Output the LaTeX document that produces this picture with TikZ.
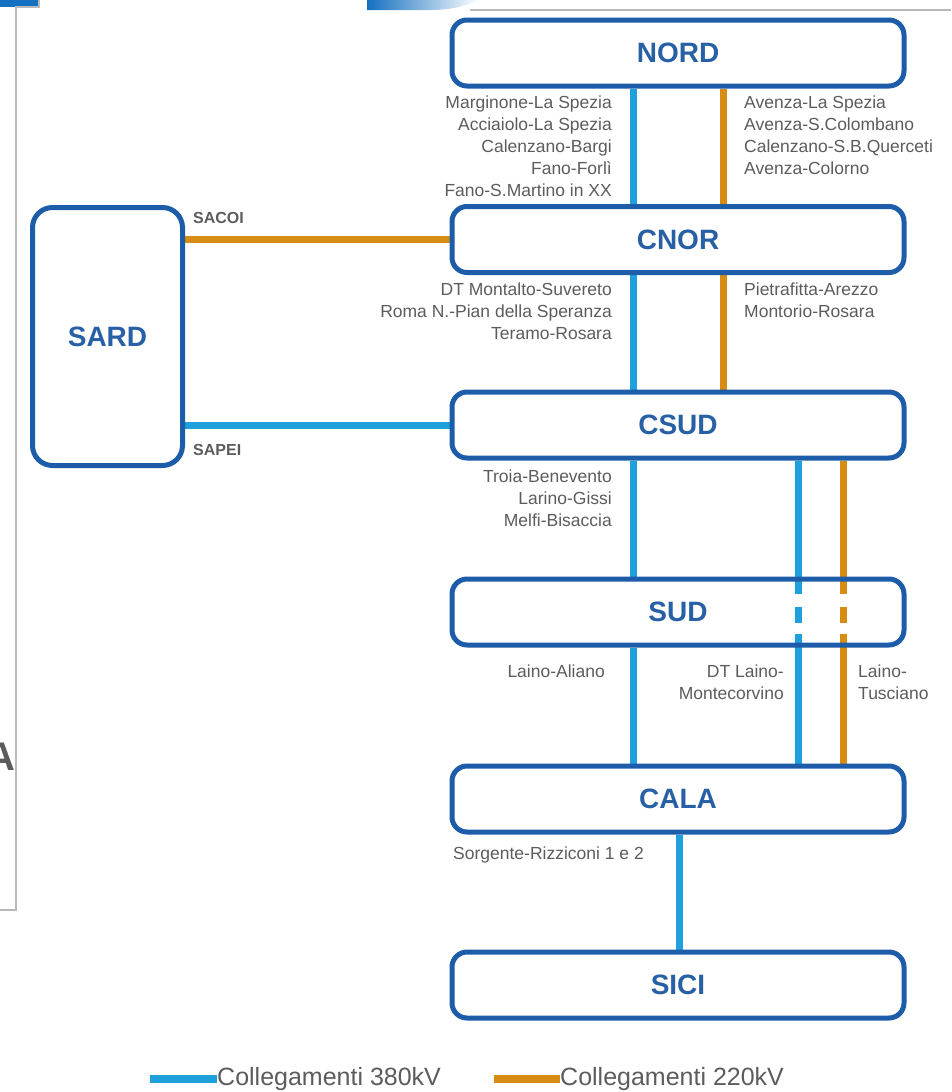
\documentclass[tikz,border=0pt]{standalone}
\usepackage{fontspec}
\setmainfont{Liberation Sans}
\usetikzlibrary{backgrounds}
\definecolor{zoneblue}{RGB}{28,92,168}
\definecolor{titleblue}{RGB}{40,96,166}
\definecolor{kvblue}{RGB}{30,160,220}
\definecolor{kvorange}{RGB}{215,140,20}
\definecolor{lblgray}{RGB}{92,92,92}
\definecolor{framegray}{RGB}{185,185,185}
\definecolor{barblue}{RGB}{20,112,192}
\begin{document}
\begin{tikzpicture}[x=1pt,y=-1pt]
		\tikzset{zone/.style = {draw=zoneblue, line width=5pt, rounded corners=15pt, minimum width=452pt, minimum height=66pt, inner sep=0pt, text=titleblue, font=\fontsize{28}{30}\selectfont\bfseries}}
		\tikzset{kv380/.style = {draw=kvblue, line width=7pt}}
		\tikzset{kv220/.style = {draw=kvorange, line width=7pt}}
		\tikzset{lbl/.style = {inner sep=0pt, text=lblgray, font=\fontsize{17.5}{22}\selectfont}}
		\tikzset{cable/.style = {inner sep=0pt, text=lblgray, font=\fontsize{16}{18}\selectfont\bfseries}}

		\useasboundingbox (0,0) rectangle (951,1092);

		% frame of the screenshot
		\fill[barblue] (0,0) rectangle (39,7);
		\shade[left color=barblue, right color=white] (367,0) -- (367,10) -- (430,10) .. controls (455,10) and (466,5) .. (480,0) -- cycle;
		\draw[framegray, line width=1.2pt] (0,910) -- (16,910) -- (16,7) -- (39,7) -- (39,0);
		\draw[framegray, line width=1.2pt] (470,10) -- (951,10);
		\begin{scope}
			\clip (0,0) rectangle (16,1092);
			\node[text=lblgray, font=\fontsize{40}{40}\selectfont\bfseries] (A_cut) at (1,757) {A};
		\end{scope}

		\node[zone] (NORD) at (678,53) {NORD};
		\node[zone] (CNOR) at (678,239.5) {CNOR};
		\node[zone] (CSUD) at (678,425) {CSUD};
		\node[zone] (SUD) at (678,612) {SUD};
		\node[zone] (CALA) at (678,799) {CALA};
		\node[zone] (SICI) at (678,985) {SICI};
		\node[zone, minimum width=150pt, minimum height=258pt, rounded corners=20pt] (SARD) at (107.5,336.5) {SARD};

		\coordinate (x_1) at (633,0);
		\coordinate (x_2) at (723,0);
		\coordinate (x_3) at (798,0);
		\coordinate (x_4) at (843,0);
		\coordinate (x_5) at (679,0);

		\node[lbl, anchor=north east, align=right] (L_1) at (612,95.5) {Marginone-La Spezia\\Acciaiolo-La Spezia\\Calenzano-Bargi\\Fano-Forlì\\Fano-S.Martino in XX};
		\node[lbl, anchor=north west, align=left] (R_1) at (744,95.5) {Avenza-La Spezia\\Avenza-S.Colombano\\Calenzano-S.B.Querceti\\Avenza-Colorno};
		\node[lbl, anchor=north east, align=right] (L_2) at (612,282.5) {DT Montalto-Suvereto\\Roma N.-Pian della Speranza\\Teramo-Rosara};
		\node[lbl, anchor=north west, align=left] (R_2) at (744,282.5) {Pietrafitta-Arezzo\\Montorio-Rosara};
		\node[lbl, anchor=north east, align=right] (L_3) at (612,469.5) {Troia-Benevento\\Larino-Gissi\\Melfi-Bisaccia};
		\node[lbl, anchor=north east, align=right] (L_4) at (605,664.5) {Laino-Aliano};
		\node[lbl, anchor=north east, align=right] (M_4) at (784,664.5) {DT Laino-\\Montecorvino};
		\node[lbl, anchor=north west, align=left] (R_4) at (858,664.5) {Laino-\\Tusciano};
		\node[lbl, anchor=north west, align=left] (L_5) at (453,846.5) {Sorgente-Rizziconi 1 e 2};
		\node[cable, anchor=north west] (SACOI) at (193,212) {SACOI};
		\node[cable, anchor=north west] (SAPEI) at (193,444) {SAPEI};

		\node[lbl, anchor=west, font=\fontsize{25}{25}\selectfont] (leg380) at (217,1079) {Collegamenti 380kV};
		\node[lbl, anchor=west, font=\fontsize{25}{25}\selectfont] (leg220) at (560,1079) {Collegamenti 220kV};
		\coordinate (bar380) at (150,1079);
		\coordinate (bar220) at (494,1079);

		\begin{scope}[on background layer]
			\draw[kv380] (NORD.south -| x_1)--(CNOR.north -| x_1);
			\draw[kv220] (NORD.south -| x_2)--(CNOR.north -| x_2);
			\draw[kv380] (CNOR.south -| x_1)--(CSUD.north -| x_1);
			\draw[kv220] (CNOR.south -| x_2)--(CSUD.north -| x_2);
			\draw[kv380] (CSUD.south -| x_1)--(SUD.north -| x_1);
			\draw[kv380, dash pattern=on 133pt off 13pt on 16pt off 11pt on 200pt] (CSUD.south -| x_3)--(CALA.north -| x_3);
			\draw[kv220, dash pattern=on 133pt off 13pt on 16pt off 11pt on 200pt] (CSUD.south -| x_4)--(CALA.north -| x_4);
			\draw[kv380] (SUD.south -| x_1)--(CALA.north -| x_1);
			\draw[kv380] (CALA.south -| x_5)--(SICI.north -| x_5);
			\draw[kv220] (SARD.east |- CNOR.west)--(CNOR.west);
			\draw[kv380] (SARD.east |- CSUD.west)--(CSUD.west);
		\end{scope}

		\draw[kv380, line width=8pt] (bar380)--(leg380.west);
		\draw[kv220, line width=8pt] (bar220)--(leg220.west);

	\end{tikzpicture}
\end{document}
